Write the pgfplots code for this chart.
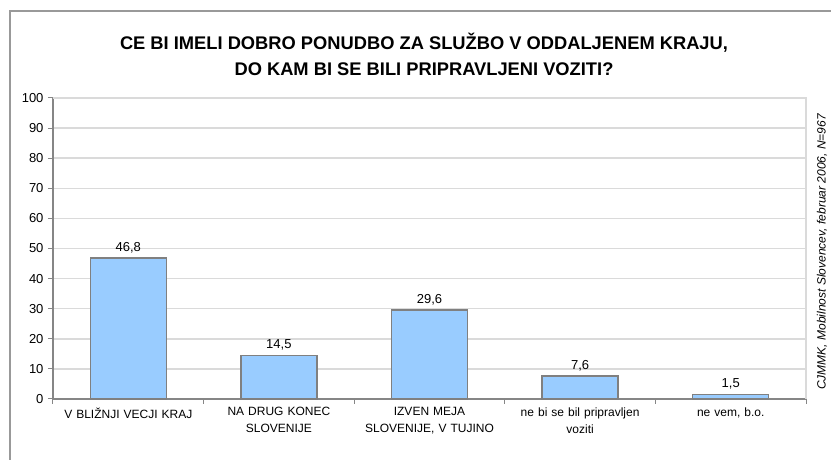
\documentclass[border=0pt]{standalone}
\usepackage{pgfplots}
\pgfplotsset{compat=1.18}
\usepackage{fontspec}
\setmainfont{Liberation Sans}
\definecolor{barblue}{HTML}{99CCFF}
\definecolor{baredge}{HTML}{808080}
\definecolor{axisgray}{HTML}{868686}
\definecolor{gridgray}{HTML}{DADADA}
\definecolor{framegray}{HTML}{999999}
\begin{document}
\begin{tikzpicture}[x=1pt,y=1pt]
\useasboundingbox (0,0) rectangle (831,460);
\draw[framegray, line width=2pt] (10,0) -- (10,449) -- (832,449);
\node[align=center, font=\fontsize{18.3}{26}\selectfont\bfseries] at (424,406) {CE BI IMELI DOBRO PONUDBO ZA SLUŽBO V ODDALJENEM KRAJU,\\DO KAM BI SE BILI PRIPRAVLJENI VOZITI?};
\node[rotate=90, font=\fontsize{12}{14}\selectfont\itshape] at (822,208) {CJMMK, Mobilnost Slovencev, februar 2006, N=967};
\begin{axis}[
  at={(53pt,61pt)}, anchor=south west,
  scale only axis, width=753pt, height=301pt,
  ybar, bar width=76pt,
  xmin=-0.5, xmax=4.5, ymin=0, ymax=100,
  ytick={0,10,...,100},
  xtick={-0.5,0.5,1.5,2.5,3.5,4.5},
  xticklabels={},
  extra x ticks={0,1,2,3,4},
  extra x tick labels={V BLIŽNJI VECJI KRAJ, {NA DRUG KONEC\\SLOVENIJE}, {IZVEN MEJA\\SLOVENIJE, V TUJINO}, {ne bi se bil pripravljen\\voziti}, {ne vem, b.o.}},
  extra x tick style={major tick length=0pt, grid=none},
  axis lines*=left,
  axis line style={axisgray, line width=1.5pt},
  every tick/.style={axisgray, line width=1pt},
  tick align=outside,
  major tick length=5pt,
  ymajorgrids,
  major grid style={gridgray, line width=1.5pt},
  /pgf/number format/assume math mode=true,
  tick label style={font=\fontsize{13}{15}\selectfont},
  x tick label style={font=\fontsize{12}{17}\selectfont, align=center, text width=150pt, yshift=-5pt},
  y tick label style={xshift=-1pt},
  nodes near coords,
  nodes near coords style={font=\fontsize{13}{15}\selectfont, yshift=1pt, /pgf/number format/fixed, /pgf/number format/precision=1, /pgf/number format/fixed zerofill, /pgf/number format/use comma, /pgf/number format/assume math mode=true},
  clip=false,
]
\draw[gridgray, line width=1.5pt] (rel axis cs:0,1) -- (rel axis cs:1,1) -- (rel axis cs:1,0);
\addplot[fill=barblue, draw=baredge, line width=1.5pt] coordinates {(0,46.8) (1,14.5) (2,29.6) (3,7.6) (4,1.5)};
\end{axis}
\end{tikzpicture}
\end{document}
